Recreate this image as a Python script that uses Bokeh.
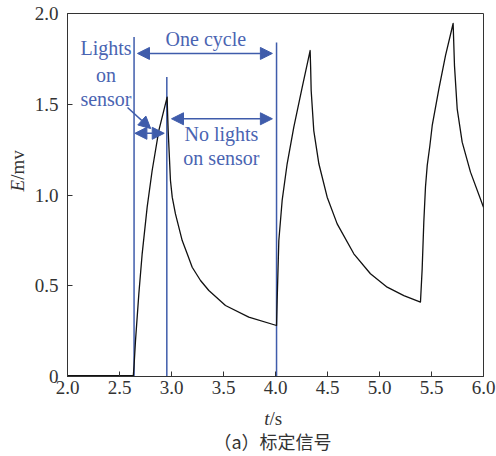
from bokeh.plotting import figure
from bokeh.layouts import column, row
from bokeh.models import Label, Arrow, NormalHead, FixedTicker, ColumnDataSource
from bokeh.embed import file_html
from bokeh.resources import INLINE
import math

# ---- data ----
t = [2.00, 2.30, 2.633, 2.64, 2.654, 2.686, 2.718, 2.766, 2.814, 2.878, 2.958,
     2.962, 2.968, 2.99, 3.007, 3.038, 3.103, 3.151, 3.199, 3.279, 3.359, 3.519, 3.743, 4.01,
     4.016, 4.032, 4.064, 4.112, 4.176, 4.257, 4.333,
     4.338, 4.343, 4.368, 4.417, 4.497, 4.593, 4.753, 4.913, 5.074, 5.234, 5.394,
     5.41, 5.426, 5.442, 5.459, 5.484, 5.507, 5.571, 5.635, 5.708,
     5.721, 5.747, 5.795, 5.875, 6.00]
E = [0.005, 0.005, 0.005, 0.06, 0.198, 0.456, 0.676, 0.933, 1.135, 1.355, 1.539,
     1.46, 1.355, 1.08, 0.988, 0.896, 0.749, 0.676, 0.602, 0.529, 0.474, 0.391, 0.327, 0.281,
     0.42, 0.749, 0.970, 1.172, 1.374, 1.594, 1.796,
     1.70, 1.576, 1.355, 1.172, 0.988, 0.841, 0.676, 0.566, 0.492, 0.446, 0.410,
     0.59, 0.85, 1.043, 1.163, 1.27, 1.383, 1.585, 1.769, 1.945,
     1.713, 1.475, 1.291, 1.126, 0.933]

x_ticks = [2.0, 2.5, 3.0, 3.5, 4.0, 4.5, 5.0, 5.5, 6.0]
y_ticks = [0, 0.5, 1.0, 1.5, 2.0]
y_tick_labels = ["0", "0.5", "1.0", "1.5", "2.0"]

# annotation markers (times)
marker_t = [2.64, 2.955, 4.01]
marker_top = [1.87, 1.65, 1.84]

BLUE = "#3f5cab"
TXT = "#4a64b2"
SERIF = "Liberation Serif"
DARK = "#333333"

p = figure(width=466, height=406, output_backend="svg", toolbar_location=None,
           x_range=(2.0, 6.0), y_range=(0.0, 2.0),
           min_border_left=37, min_border_right=13, min_border_top=13, min_border_bottom=30)
p.grid.visible = False
p.outline_line_color = DARK
p.outline_line_width = 1
p.background_fill_color = "white"
p.border_fill_color = "white"

for ax in (p.xaxis[0], p.yaxis[0]):
    ax.major_tick_in = 5
    ax.major_tick_out = 0
    ax.minor_tick_line_color = None
    ax.axis_line_color = DARK
    ax.major_tick_line_color = DARK
    ax.major_label_text_font = SERIF
    ax.major_label_text_font_size = "19px"
    ax.major_label_text_color = DARK

p.xaxis.ticker = FixedTicker(ticks=x_ticks)
p.xaxis.major_label_overrides = {v: f"{v:.1f}" for v in x_ticks}
p.xaxis.major_label_standoff = 4
p.yaxis.ticker = FixedTicker(ticks=y_ticks)
p.yaxis.major_label_overrides = {v: s for v, s in zip(y_ticks, y_tick_labels)}
p.yaxis.major_label_standoff = 9

# vertical markers
src = ColumnDataSource(dict(x=marker_t, y0=[0, 0, 0], y1=marker_top))
p.segment(x0="x", y0="y0", x1="x", y1="y1", source=src, line_color=BLUE, line_width=1.5)

# curve
p.line(t, E, line_color="#111111", line_width=1.3, line_join="round")

def head():
    return NormalHead(size=12, fill_color=BLUE, line_color=BLUE, line_width=1)

def darrow(x0, x1, y):
    p.add_layout(Arrow(x_start=x0, y_start=y, x_end=x1, y_end=y,
                       start=head(), end=head(), line_color=BLUE, line_width=1.5))

darrow(2.673, 3.97, 1.78)
darrow(3.00, 3.97, 1.42)
darrow(2.648, 2.93, 1.34)
p.add_layout(Arrow(x_start=2.577, y_start=1.482, x_end=2.80, y_end=1.366,
                   end=head(), line_color=BLUE, line_width=1.5))

def lab(fig, x, y, s, size="20px", color=TXT, font=SERIF, align="center", style="normal", angle=0.0):
    fig.add_layout(Label(x=x, y=y, text=s, text_font=font, text_font_size=size,
                         text_color=color, text_align=align, text_baseline="middle",
                         text_font_style=style, angle=angle))

lab(p, 3.33, 1.86, "One cycle")
lab(p, 2.37, 1.81, "Lights")
lab(p, 2.37, 1.66, "on")
lab(p, 2.37, 1.53, "sensor")
lab(p, 3.48, 1.335, "No lights")
lab(p, 3.48, 1.205, "on sensor")

def strip(w, h):
    f = figure(width=w, height=h, output_backend="svg", toolbar_location=None,
               x_range=(0, w), y_range=(h, 0), x_axis_type=None, y_axis_type=None,
               min_border=0, outline_line_color=None)
    f.grid.visible = False
    return f

# y-axis title strip (left)
left = strip(30, 406)
lab(left, 17, 186, "E", size="19px", color=DARK, align="right", style="italic", angle=math.pi / 2)
lab(left, 17, 186, "/mv", size="19px", color=DARK, align="left", angle=math.pi / 2)

# x-axis title and caption strip (bottom)
bottom = strip(496, 50)
lab(bottom, 269, 12, "t", size="19px", color=DARK, align="right", style="italic")
lab(bottom, 269, 12, "/s", size="19px", color=DARK, align="left")
lab(bottom, 272, 34, "（a）标定信号", size="18px", color=DARK, font="Noto Sans CJK SC")

layout = column(row(left, p, spacing=0), bottom, spacing=0)
open("out.html", "w").write(file_html(layout, INLINE))
